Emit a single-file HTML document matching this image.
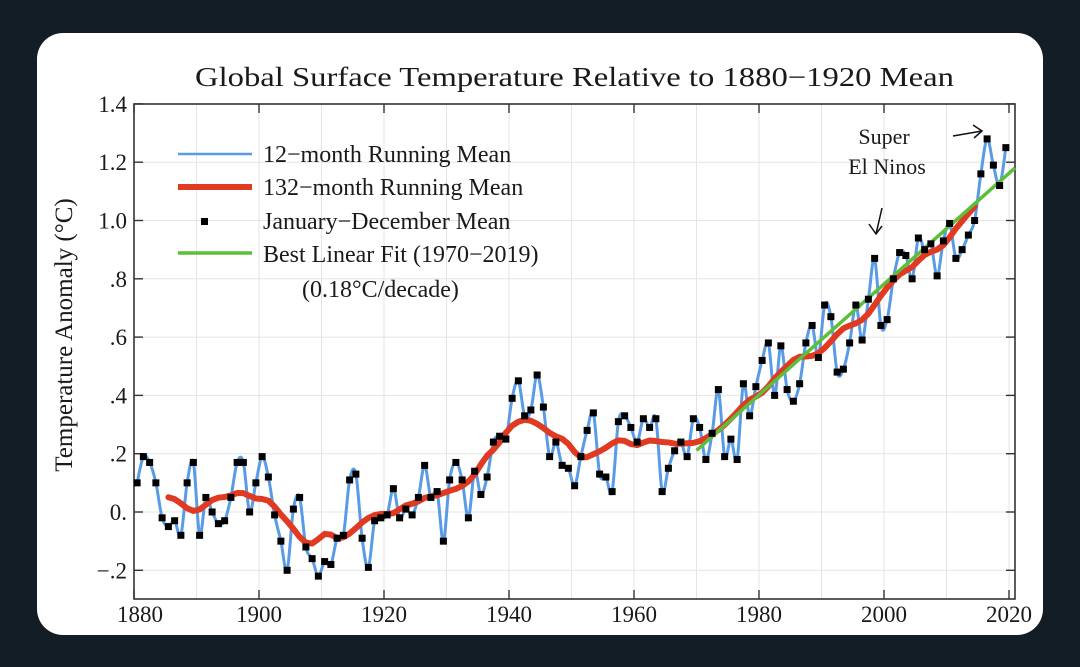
<!DOCTYPE html>
<html><head><meta charset="utf-8"><style>
html,body{margin:0;padding:0;background:#131d25;}
body{width:1080px;height:667px;position:relative;overflow:hidden;}
#card{position:absolute;left:37px;top:33px;width:1006px;height:602px;background:#fff;border-radius:26px;}
svg{position:absolute;left:0;top:0;}
text{font-family:"Liberation Serif",serif;fill:#1a1a1a;}
</style></head><body>
<div id="card"></div>
<svg id="chart" width="1080" height="667"></svg>
<script>
const years = [];
for (let y = 1880; y <= 2019; y++) years.push(y);
const annualMeans = [
0.10,0.19,0.17,0.10,-0.02,-0.05,-0.03,-0.08,0.10,0.17,
-0.08,0.05,0.00,-0.04,-0.03,0.05,0.17,0.17,0.00,0.10,
0.19,0.12,-0.01,-0.10,-0.20,0.01,0.05,-0.12,-0.16,-0.22,
-0.17,-0.18,-0.09,-0.08,0.11,0.13,-0.09,-0.19,-0.03,-0.02,
-0.01,0.08,-0.02,0.01,-0.01,0.05,0.16,0.05,0.07,-0.10,
0.11,0.17,0.11,-0.02,0.14,0.06,0.12,0.24,0.26,0.25,
0.39,0.45,0.33,0.35,0.47,0.36,0.19,0.24,0.16,0.15,
0.09,0.19,0.28,0.34,0.13,0.12,0.07,0.31,0.33,0.29,
0.24,0.32,0.29,0.32,0.07,0.15,0.21,0.24,0.19,0.32,
0.29,0.18,0.27,0.42,0.19,0.25,0.18,0.44,0.33,0.43,
0.52,0.58,0.40,0.57,0.42,0.38,0.44,0.58,0.64,0.53,
0.71,0.67,0.48,0.49,0.58,0.71,0.59,0.73,0.87,0.64,
0.66,0.80,0.89,0.88,0.80,0.94,0.90,0.92,0.81,0.93,
0.99,0.87,0.90,0.95,1.00,1.16,1.28,1.19,1.12,1.25];
const xTicks = [1880,1900,1920,1940,1960,1980,2000,2020];
const yTicks = [-0.2,0,0.2,0.4,0.6,0.8,1.0,1.2,1.4];
const yTickLabels = ["-.2","0.",".2",".4",".6",".8","1.0","1.2","1.4"];
const fitStart = 1970, fitEnd = 2019;

const NS="http://www.w3.org/2000/svg";
const svg=document.getElementById('chart');
const L=134,R=1015,T=104,B=599;
const X=y=>134+(y-1880)*6.25;
const Y=v=>512-v*291.5;
function el(tag,attrs,parent){const e=document.createElementNS(NS,tag);for(const k in attrs)e.setAttribute(k,attrs[k]);(parent||svg).appendChild(e);return e;}

for(let y=1890;y<=2020;y+=10){
  const g=el('line',{x1:X(y),x2:X(y),y1:T,y2:B,stroke:'#e4e4e4','stroke-width':1});
  
  
}
yTicks.forEach(v=>{
  const g=el('line',{x1:L,x2:R,y1:Y(v),y2:Y(v),stroke:'#e4e4e4','stroke-width':1});
  
  
});
const frame=el('rect',{x:L,y:T,width:R-L,height:B-T,fill:'none',stroke:'#333','stroke-width':1.6});


xTicks.forEach(y=>{
  el('line',{x1:X(y),x2:X(y),y1:B,y2:B-9,stroke:'#333','stroke-width':1.4});
  el('line',{x1:X(y),x2:X(y),y1:T,y2:T+9,stroke:'#333','stroke-width':1.4});
  const t=el('text',{x:X(y)+(y==1880?6:0),y:622,'text-anchor':'middle','font-size':23});
  t.textContent=y;
  
  
});
yTicks.forEach((v,i)=>{
  el('line',{x1:L,x2:L+9,y1:Y(v),y2:Y(v),stroke:'#333','stroke-width':1.4});
  el('line',{x1:R,x2:R-9,y1:Y(v),y2:Y(v),stroke:'#333','stroke-width':1.4});
  const t=el('text',{x:127,y:Y(v)+8,'text-anchor':'end','font-size':23});
  t.textContent=yTickLabels[i].replace('-','\u2212');
  
  
});
const yt=el('text',{x:0,y:0,'text-anchor':'middle','font-size':25,transform:'translate(72,335) rotate(-90)'});
yt.textContent='Temperature Anomaly (°C)';


const tt=el('text',{x:195,y:86,'font-size':27,textLength:759,lengthAdjust:'spacingAndGlyphs'});
tt.textContent='Global Surface Temperature Relative to 1880\u22121920 Mean';



const pts=years.map((y,i)=>[X(y+0.5),Y(annualMeans[i])]);
let d='M'+pts[0][0]+','+pts[0][1];
for(let i=0;i<pts.length-1;i++){
  const p0=pts[Math.max(0,i-1)],p1=pts[i],p2=pts[i+1],p3=pts[Math.min(pts.length-1,i+2)];
  const c1=[p1[0]+(p2[0]-p0[0])/6,p1[1]+(p2[1]-p0[1])/6];
  const c2=[p2[0]-(p3[0]-p1[0])/6,p2[1]-(p3[1]-p1[1])/6];
  d+=` C${c1[0]},${c1[1]} ${c2[0]},${c2[1]} ${p2[0]},${p2[1]}`;
}
const blue=el('path',{d:d,fill:'none',stroke:'#5a9be6','stroke-width':3,'stroke-linejoin':'round'});



// red: 11-yr centered mean, lightly smoothed
const rv=[];
for(let i=5;i<years.length-5;i++){
  let s=0;for(let k=-5;k<=5;k++)s+=annualMeans[i+k];
  rv.push([years[i],s/11]);
}
const rp=rv.map((p,i)=>{
  const a=rv[Math.max(0,i-1)][1],c=rv[Math.min(rv.length-1,i+1)][1];
  return [X(p[0]+0.5),Y((a+2*p[1]+c)/4)];
});
const red=el('polyline',{points:rp.map(p=>p.join(',')).join(' '),fill:'none',stroke:'#e03a22','stroke-width':6,'stroke-linejoin':'round','stroke-linecap':'round'});



let n=0,sx=0,sy=0,sxx=0,sxy=0;
years.forEach((y,i)=>{if(y>=fitStart&&y<=fitEnd){n++;sx+=y;sy+=annualMeans[i];sxx+=y*y;sxy+=y*annualMeans[i];}});
const slope=(n*sxy-sx*sy)/(n*sxx-sx*sx), icpt=(sy-slope*sx)/n;
const green=el('line',{x1:X(fitStart),y1:Y(slope*fitStart+icpt),x2:R,y2:Y(slope*2021.2+icpt),stroke:'#5cbf3a','stroke-width':3.5});



years.forEach((y,i)=>{
  const m=el('rect',{x:X(y+0.5)-3.5,y:Y(annualMeans[i])-3.5,width:7,height:7,fill:'#000'});
  
  
});
</script>
<svg width="1080" height="667">
  <g font-size="24">
    <line x1="178" y1="154" x2="252" y2="154" stroke="#5a9be6" stroke-width="2.5"/>
    <text x="263" y="162">12−month Running Mean</text>
    <line x1="178" y1="187" x2="252" y2="187" stroke="#e03a22" stroke-width="6"/>
    <text x="263" y="195">132−month Running Mean</text>
    <rect x="201" y="218" width="7" height="7" fill="#000"/>
    <text x="263" y="229">January−December Mean</text>
    <line x1="178" y1="253" x2="252" y2="253" stroke="#5cbf3a" stroke-width="3.5"/>
    <text x="263" y="262">Best Linear Fit (1970−2019)</text>
    <text x="302" y="297">(0.18°C/decade)</text>
  </g>
  <g font-size="22">
    <text x="884" y="144" text-anchor="middle">Super</text>
    <text x="887" y="174" text-anchor="middle">El Ninos</text>
    <line x1="882" y1="208" x2="876" y2="234" stroke="#111" stroke-width="1.5"/>
    <polyline points="869,224 876,234 882,226" fill="none" stroke="#111" stroke-width="1.5"/>
    <line x1="953" y1="136" x2="982" y2="131" stroke="#111" stroke-width="1.5"/>
    <polyline points="973,125 982,131 974,138" fill="none" stroke="#111" stroke-width="1.5"/>
  </g>
</svg>
</body></html>
